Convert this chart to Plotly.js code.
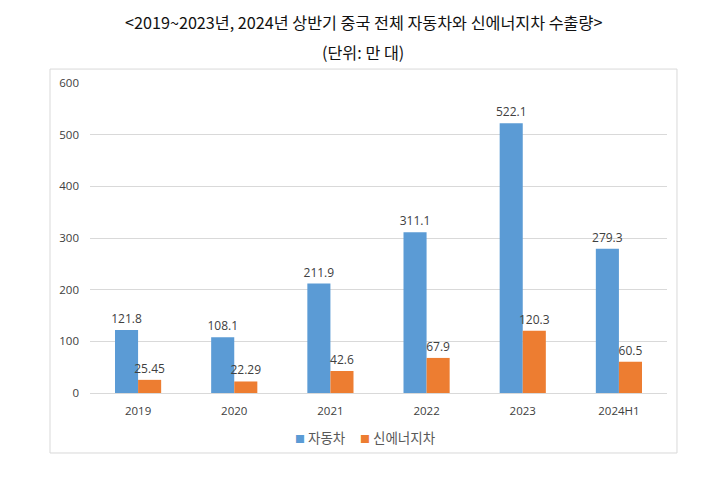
<!DOCTYPE html>
<html>
<head>
<meta charset="utf-8">
<script src="https://cdn.plot.ly/plotly-3.0.1.min.js"></script>
<style>body{margin:0;background:#fff}#chart{width:719px;height:477px}</style>
</head>
<body>
<div id="chart"></div>
<script>
const categories = ["2019", "2020", "2021", "2022", "2023", "2024H1"];
const carValues = [121.8, 108.1, 211.9, 311.1, 522.1, 279.3];
const nevValues = [25.45, 22.29, 42.6, 67.9, 120.3, 60.5];
const carLabels = ["121.8", "108.1", "211.9", "311.1", "522.1", "279.3"];
const nevLabels = ["25.45", "22.29", "42.6", "67.9", "120.3", "60.5"];
const seriesNames = ["자동차", "신에너지차"];
const seriesColors = ["#5B9BD5", "#ED7D31"];
const yTicks = [0, 100, 200, 300, 400, 500, 600];

const labelFont = {family: "Open Sans, Liberation Sans, sans-serif", size: 12, color: "#404040"};
const tickFont = {family: "Open Sans, Liberation Sans, sans-serif", size: 11.5, color: "#404040"};
const data = [
  {type: "bar", name: seriesNames[0], x: categories, y: carValues, text: carLabels,
   textposition: "outside", textfont: labelFont, constraintext: "none", cliponaxis: false,
   marker: {color: seriesColors[0]}, hoverinfo: "x+y", showlegend: false},
  {type: "bar", name: seriesNames[1], x: categories, y: nevValues, text: nevLabels,
   textposition: "outside", textfont: labelFont, constraintext: "none", cliponaxis: false,
   marker: {color: seriesColors[1]}, hoverinfo: "x+y", showlegend: false}
];
const legendFont = {family: "Noto Sans CJK KR, sans-serif", size: 13.5, color: "#595959"};
const legendY = (393 - 437) / 310;
const legendItem = (i) => "<span style='color:" + seriesColors[i] + ";font-size:10px'>■</span> " + seriesNames[i];
const layout = {
  width: 719, height: 477,
  margin: {l: 90, r: 52, t: 83, b: 84},
  paper_bgcolor: "#fff", plot_bgcolor: "#fff",
  barmode: "group", bargap: 0.52, bargroupgap: 0,
  showlegend: false,
  xaxis: {type: "category", showgrid: false, zeroline: false, showline: false, ticks: "",
          ticklabelstandoff: 9, tickfont: tickFont},
  yaxis: {range: [0, 600], tickvals: yTicks, showgrid: true, gridcolor: "#d9d9d9", gridwidth: 1,
          zeroline: true, zerolinecolor: "#d9d9d9", showline: false, ticks: "", ticklen: 0,
          ticklabelstandoff: 10, tickfont: tickFont},
  shapes: [{type: "rect", xref: "paper", yref: "paper", x0: -0.0693, x1: 1.0173, y0: -0.1935, y1: 1.045,
            line: {color: "#d9d9d9", width: 1}, fillcolor: "rgba(0,0,0,0)", layer: "below"}],
  annotations: [
    {text: "<2019~2023년, 2024년 상반기 중국 전체 자동차와 신에너지차 수출량>", xref: "paper", yref: "paper",
     x: (363 - 90) / 577, y: (393 - 22) / 310, xanchor: "center", yanchor: "middle", showarrow: false,
     font: {family: "Noto Sans CJK KR, sans-serif", size: 16.2, color: "#111"}},
    {text: "(단위: 만 대)", xref: "paper", yref: "paper",
     x: (363 - 90) / 577, y: (393 - 52) / 310, xanchor: "center", yanchor: "middle", showarrow: false,
     font: {family: "Noto Sans CJK KR, sans-serif", size: 16.2, color: "#111"}},
    {text: legendItem(0), xref: "paper", yref: "paper",
     x: (293 - 90) / 577, y: legendY, xanchor: "left", yanchor: "middle", showarrow: false, font: legendFont},
    {text: legendItem(1), xref: "paper", yref: "paper",
     x: (358 - 90) / 577, y: legendY, xanchor: "left", yanchor: "middle", showarrow: false, font: legendFont}
  ]
};
Plotly.newPlot("chart", data, layout, {displayModeBar: false, staticPlot: true});
</script>
</body>
</html>
